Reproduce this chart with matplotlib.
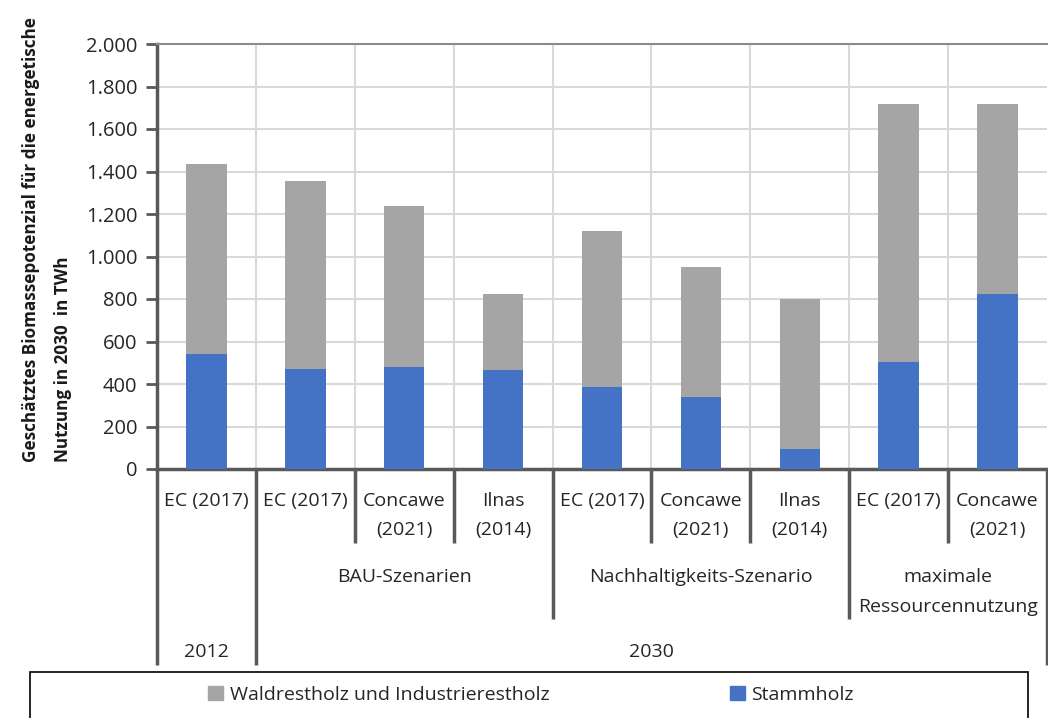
import matplotlib
matplotlib.use("Agg")
import matplotlib.pyplot as plt
from matplotlib.patches import Rectangle, Patch

plt.rcParams['font.family'] = ['Open Sans', 'DejaVu Sans']

# Data (TWh)
categories = ["EC (2017)", "EC (2017)", "Concawe\n(2021)", "Ilnas\n(2014)",
              "EC (2017)", "Concawe\n(2021)", "Ilnas\n(2014)",
              "EC (2017)", "Concawe\n(2021)"]
stammholz = [542, 469, 480, 467, 384, 339, 94, 505, 822]
gesamt = [1437, 1355, 1238, 822, 1122, 949, 801, 1720, 1720]
restholz = [g - s for g, s in zip(gesamt, stammholz)]

szenarien = [("BAU-Szenarien", 1, 3), ("Nachhaltigkeits-Szenario", 4, 6),
             ("maximale\nRessourcennutzung", 7, 8)]
jahre = [("2012", 0, 0), ("2030", 1, 8)]
yticks = [0, 200, 400, 600, 800, 1000, 1200, 1400, 1600, 1800, 2000]

BLUE = "#4472C4"
GREY = "#A5A5A5"
AXIS = "#595959"
GRID = "#D9D9D9"

W, H = 1048, 718
fig = plt.figure(figsize=(W / 100, H / 100), dpi=100)
left, right, top, bottom = 157, 1047, 44, 469
ax = fig.add_axes([left / W, 1 - bottom / H, (right - left) / W, (bottom - top) / H])
ax_h = bottom - top

x = list(range(len(categories)))
ax.bar(x, stammholz, width=0.41, color=BLUE, zorder=3, label="Stammholz")
ax.bar(x, restholz, width=0.41, bottom=stammholz, color=GREY, zorder=3,
       label="Waldrestholz und Industrierestholz")

ax.set_xlim(-0.5, len(categories) - 0.5)
ax.set_ylim(0, 2000)
ax.set_yticks(yticks)
ax.set_yticklabels([f"{v:,}".replace(",", ".") for v in yticks], fontsize=14.5, color="#262626")
ax.tick_params(axis='y', length=8, width=2, color=AXIS, pad=6)
ax.set_xticks([])
ax.set_xticks([i + 0.5 for i in range(len(categories) - 1)], minor=True)
ax.tick_params(axis='x', which='minor', length=0)
ax.grid(True, axis='y', color=GRID, lw=1.5, zorder=0)
ax.grid(True, axis='x', which='minor', color=GRID, lw=1.5, zorder=0)

for s in ("left", "bottom"):
    ax.spines[s].set_color(AXIS)
    ax.spines[s].set_linewidth(2.5)
ax.spines["top"].set_color("#8C8C8C")
ax.spines["top"].set_linewidth(1.5)
ax.spines["right"].set_visible(False)

tr = ax.get_xaxis_transform()


def py(px):
    """pixel offset below the x axis -> axes fraction"""
    return -px / ax_h


def vline(xd, depth):
    ax.plot([xd, xd], [0, py(depth)], transform=tr, color=AXIS, lw=2.5,
            clip_on=False, solid_capstyle='butt', zorder=5)


# separators of the multi-level category axis
n = len(categories)
for b in range(n + 1):
    xb = b - 0.5
    depth = 74
    if b in (0, 1, n):
        depth = 196
    elif b in (4, 7):
        depth = 150
    vline(xb, depth)


def label(xd, txt, first_px, step=29):
    for k, line in enumerate(txt.split("\n")):
        ax.text(xd, py(first_px + k * step), line, transform=tr, ha='center',
                va='center', fontsize=14, color="#262626", clip_on=False)


for i, c in enumerate(categories):
    label(i, c, 32)
for name, a, b in szenarien:
    label((a + b) / 2, name, 108, 30)
for name, a, b in jahre:
    label((a + b) / 2, name, 183)

# y-axis title
fig.text(47 / W, 1 - 240 / H,
         "Geschätztes Biomassepotenzial für die energetische\nNutzung in 2030  in TWh",
         rotation=90, ha='center', va='center', multialignment='left',
         fontsize=12.3, fontweight='bold', color="#1a1a1a", linespacing=1.95)

# legend
fig.add_artist(Rectangle((30 / W, -0.05), 998 / W, (H - 672) / H + 0.05,
                         transform=fig.transFigure, fill=False, ec="black", lw=1.2))
handles = [Patch(color=GREY), Patch(color=BLUE)]
fig.legend(handles, ["Waldrestholz und Industrierestholz", "Stammholz"],
           loc='center', bbox_to_anchor=(531 / W, 1 - 695 / H), ncol=2,
           frameon=False, fontsize=14, handlelength=0.75, handleheight=0.75,
           handletextpad=0.35, columnspacing=9.3, labelcolor="#262626")

fig.savefig("out.png", dpi=100)
